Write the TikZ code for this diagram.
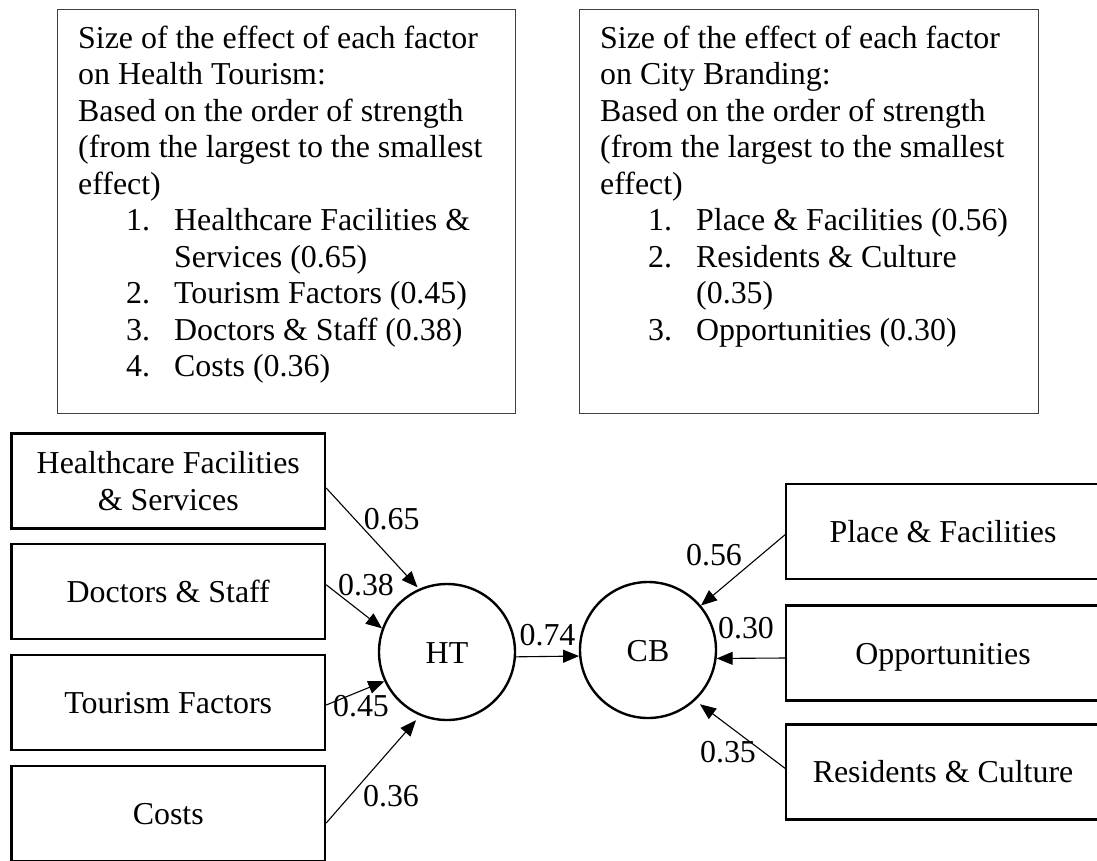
\documentclass[tikz,border=0pt]{standalone}
\usepackage{fontspec}
\setmainfont{Liberation Serif}
\usetikzlibrary{arrows.meta,calc}
\begin{document}
\begin{tikzpicture}[x=1pt,y=-1pt,
  every node/.style={font=\fontsize{31.9}{36.5}\selectfont},
  notebox/.style={draw=black!75,line width=1.3pt,rectangle,inner sep=0pt,anchor=north west},
  factor/.style={draw,line width=2.4pt,rectangle,minimum width=313.5pt,minimum height=95pt,inner sep=0pt},
  oneline/.style={text height=22pt,text depth=0pt},
  latent/.style={draw,line width=2.4pt,circle,minimum size=136pt,inner sep=0pt,text height=22pt,text depth=0pt},
  effect/.style={line width=1.1pt,-{Triangle[length=16pt,width=13pt]}},
  coef/.style={anchor=base,inner sep=0pt},
  txtline/.style={anchor=base west,inner sep=0pt}]

\useasboundingbox (0,0) rectangle (1097,860);

% summary boxes
\node[notebox,minimum width=458.5pt,minimum height=404.5pt] (htnote) at (56.5,8.5) {};
\node[notebox,minimum width=458.5pt,minimum height=404.5pt] (cbnote) at (579,8.5) {};

\newcommand\noteline[4]{\node[txtline] (#1) at (#2,#3) {#4};}
\newcommand\num[1]{\makebox[48pt][l]{#1}}

\noteline{l1}{78}{48.3}{Size of the effect of each factor}
\noteline{l2}{78}{84.8}{on Health Tourism:}
\noteline{l3}{78}{121.3}{Based on the order of strength}
\noteline{l4}{78}{157.8}{(from the largest to the smallest}
\noteline{l5}{78}{194.3}{effect)}
\noteline{l6}{126}{230.8}{\num{1.}Healthcare Facilities \&}
\noteline{l7}{174}{267.3}{Services (0.65)}
\noteline{l8}{126}{303.8}{\num{2.}Tourism Factors (0.45)}
\noteline{l9}{126}{340.3}{\num{3.}Doctors \& Staff (0.38)}
\noteline{l10}{126}{376.8}{\num{4.}Costs (0.36)}

\noteline{r1}{600}{48.3}{Size of the effect of each factor}
\noteline{r2}{600}{84.8}{on City Branding:}
\noteline{r3}{600}{121.3}{Based on the order of strength}
\noteline{r4}{600}{157.8}{(from the largest to the smallest}
\noteline{r5}{600}{194.3}{effect)}
\noteline{r6}{648}{230.8}{\num{1.}Place \& Facilities (0.56)}
\noteline{r7}{648}{267.3}{\num{2.}Residents \& Culture}
\noteline{r8}{696}{303.8}{(0.35)}
\noteline{r9}{648}{340.3}{\num{3.}Opportunities (0.30)}

% indicator boxes
\node[factor,align=center] (hfs) at (168.25,481) {Healthcare Facilities\\\& Services};
\node[factor,oneline] (doc) at (168.25,591.75) {Doctors \& Staff};
\node[factor,oneline] (tour) at (168.25,702.5) {Tourism Factors};
\node[factor,oneline] (cost) at (168.25,813.5) {Costs};

\node[factor,oneline] (place) at (943,531.7) {Place \& Facilities};
\node[factor,oneline] (opp) at (943,653) {Opportunities};
\node[factor,oneline] (res) at (943,771.8) {Residents \& Culture};

% constructs
\node[latent] (HT) at (447,652) {HT};
\node[latent] (CB) at (648,650) {CB};

% paths
\draw[effect,shorten >=2pt] ([yshift=-7pt]hfs.east) -- (HT.114);
\draw[effect] ([yshift=7pt]doc.east) -- (HT.160);
\draw[effect] ([yshift=-2.5pt]tour.east) -- (HT.205);
\draw[effect,shorten >=6pt] ([yshift=-9.5pt]cost.east) -- (HT.247);
\draw[effect] (HT.-4) -- (CB.185);
\draw[effect] ([yshift=-3pt]place.west) -- (CB.40);
\draw[effect] ([yshift=-5pt]opp.west) -- (CB.-7);
\draw[effect,shorten >=6pt] ([yshift=3.5pt]res.west) -- (CB.-47);

% coefficients
\node[coef] (c65) at (391.7,529.3) {0.65};
\node[coef] (c38) at (366,595) {0.38};
\node[coef] (c45) at (361,716) {0.45};
\node[coef] (c36) at (391,806) {0.36};
\node[coef] (c74) at (547.5,645) {0.74};
\node[coef] (c56) at (714,565) {0.56};
\node[coef] (c30) at (746,638.3) {0.30};
\node[coef] (c35) at (728,762.3) {0.35};

\end{tikzpicture}
\end{document}
